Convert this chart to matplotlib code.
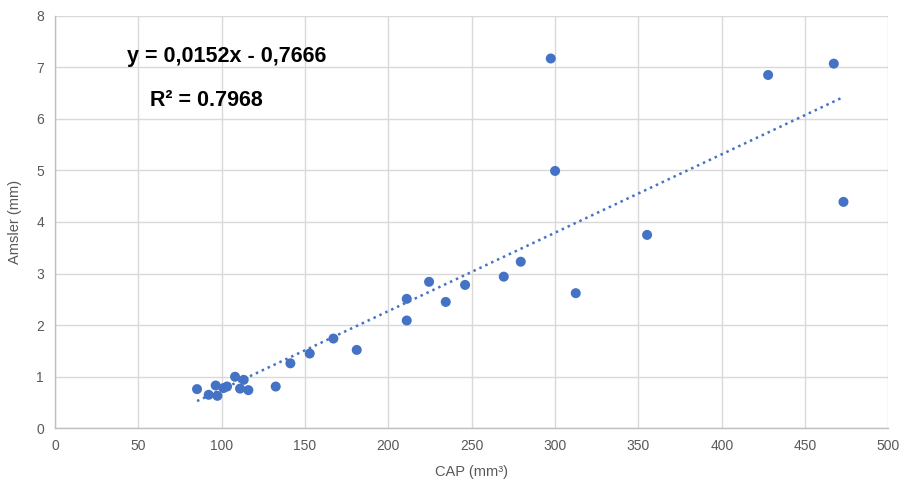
import matplotlib
matplotlib.use("Agg")
import matplotlib.pyplot as plt
import numpy as np

cap = [85.2, 92.2, 96.4, 97.4, 101.0, 103.2, 108.0, 111.0, 113.2, 116.0,
       132.4, 141.2, 152.8, 167.0, 181.0, 211.0, 211.0, 224.4, 234.4, 246.0,
       269.2, 279.4, 297.4, 300.0, 312.4, 355.2, 427.8, 467.2, 473.0]
amsler = [0.76, 0.65, 0.83, 0.63, 0.78, 0.81, 1.00, 0.77, 0.94, 0.74,
          0.81, 1.26, 1.45, 1.74, 1.52, 2.51, 2.09, 2.84, 2.45, 2.78,
          2.94, 3.23, 7.17, 4.99, 2.62, 3.75, 6.85, 7.07, 4.39]
slope = 0.0152
intercept = -0.7666
eq_label = "y = 0,0152x - 0,7666"
r2_label = "R² = 0.7968"
x_ticks = [0, 50, 100, 150, 200, 250, 300, 350, 400, 450, 500]
y_ticks = [0, 1, 2, 3, 4, 5, 6, 7, 8]

fam = ['Liberation Sans Narrow', 'Liberation Sans', 'DejaVu Sans']
plt.rcParams['font.family'] = fam

fig = plt.figure(figsize=(9.02, 4.87), dpi=100)
ax = fig.add_axes([0.061, 0.1205, 0.924, 0.8473])

ax.set_xlim(0, 500)
ax.set_ylim(0, 8)
ax.set_xticks(x_ticks)
ax.set_yticks(y_ticks)
ax.grid(True, color='#d9d9d9', linewidth=1.0)
ax.set_axisbelow(True)
for s in ['top', 'right']:
    ax.spines[s].set_visible(False)
for s in ['left', 'bottom']:
    ax.spines[s].set_color('#bfbfbf')
    ax.spines[s].set_linewidth(1.0)
ax.tick_params(length=0, labelsize=10, colors='#595959', pad=8)

ax.scatter(cap, amsler, s=52, color='#4472C4', zorder=3, edgecolors='none')

xs = np.array([min(cap), max(cap)])
ax.plot(xs, slope * xs + intercept, linestyle=(0, (1, 1.6)), color='#4472C4',
        linewidth=1.8, zorder=2)

ax.text(43, 7.2, eq_label, fontsize=15.5, fontweight='bold', color='black',
        va='center', ha='left', family=['Liberation Sans', 'DejaVu Sans'])
ax.text(57, 6.36, r2_label, fontsize=15.5, fontweight='bold', color='black',
        va='center', ha='left', family=['Liberation Sans', 'DejaVu Sans'])

ax.set_xlabel("CAP (mm³)", fontsize=10.5, color='#595959', labelpad=8)
ax.set_ylabel("Amsler (mm)", fontsize=10.5, color='#595959', labelpad=10)

fig.savefig("out.png", dpi=100)
